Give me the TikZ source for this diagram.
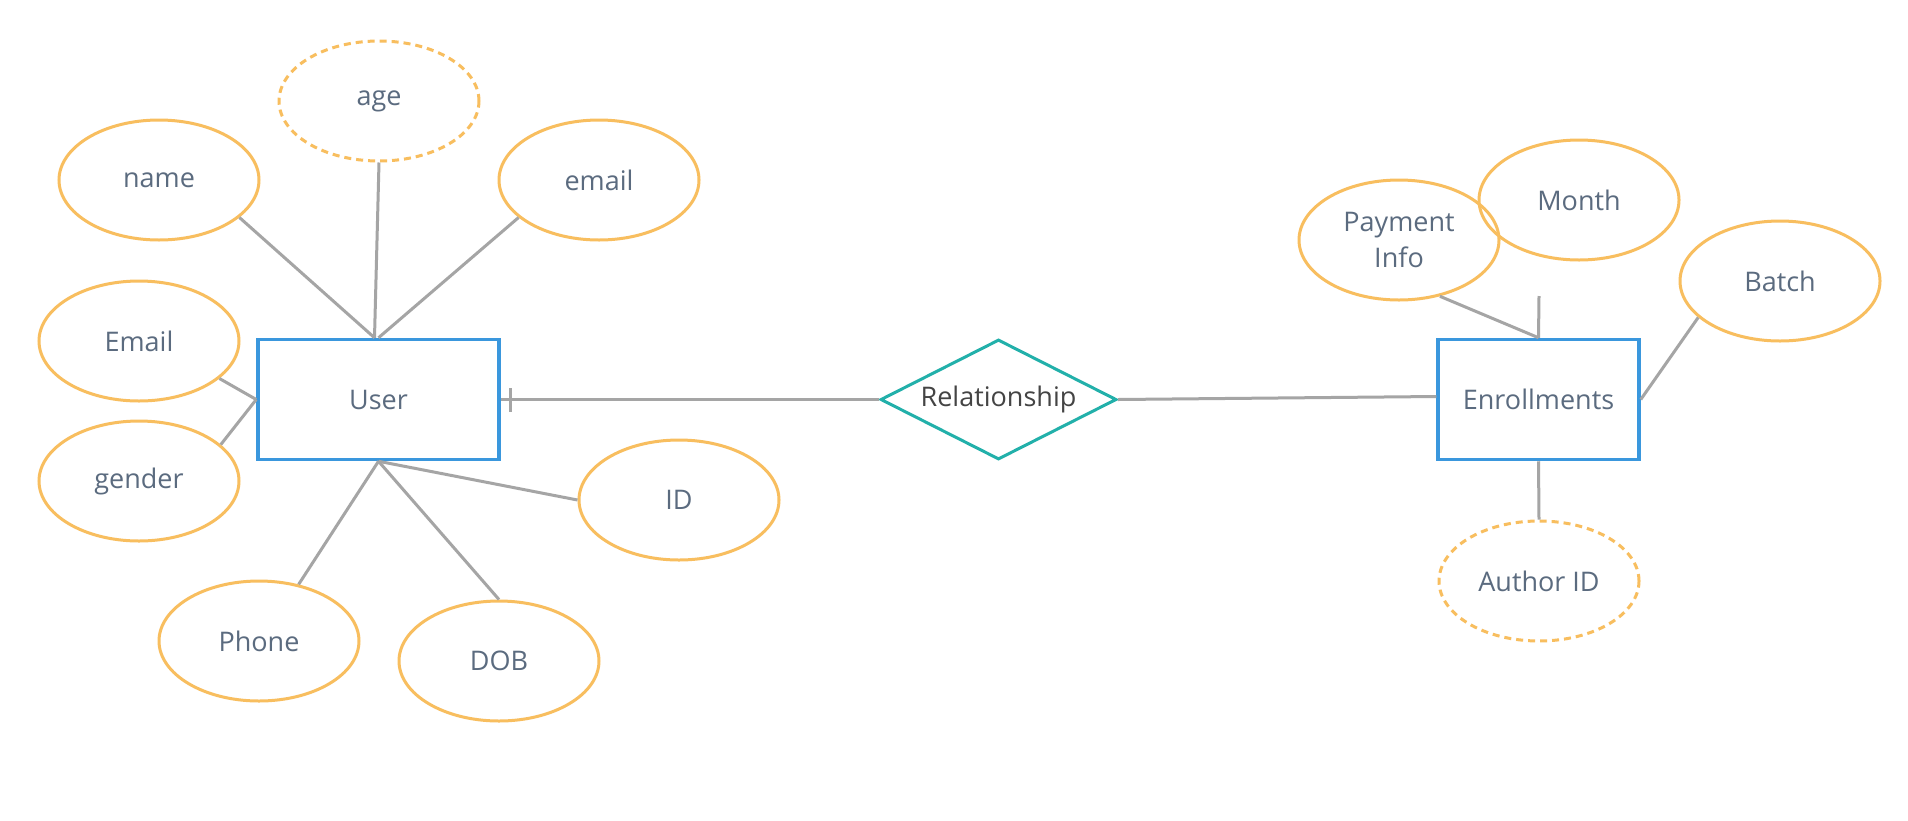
\documentclass[tikz,border=0pt]{standalone}
\usepackage{fontspec}
\setmainfont{Open Sans}
\usetikzlibrary{shapes.geometric}
\definecolor{attrc}{HTML}{F8BE5F}
\definecolor{entc}{HTML}{3A97DD}
\definecolor{relc}{HTML}{22B0AA}
\definecolor{linec}{HTML}{A5A5A5}
\definecolor{txtc}{HTML}{5B6B7F}
\definecolor{reltxt}{HTML}{444444}
\tikzset{
  attr/.style={ellipse, draw=attrc, line width=3pt, minimum width=200pt, minimum height=120pt, inner sep=0pt, text=txtc, align=center, font=\fontsize{27}{36}\selectfont},
  dattr/.style={attr, dash pattern=on 7pt off 5pt},
  entity/.style={rectangle, draw=entc, line width=3.5pt, minimum height=120pt, inner sep=0pt, text=txtc, font=\fontsize{27}{36}\selectfont},
  relbox/.style={diamond, aspect=1.97, draw=relc, line width=3pt, minimum width=236pt, minimum height=120pt, inner sep=0pt, text=reltxt, font=\fontsize{27}{36}\selectfont},
  conn/.style={draw=linec, line width=3pt}
}
\begin{document}
\begin{tikzpicture}[x=1pt,y=-1pt]
\useasboundingbox[fill=white] (0,0) rectangle (1908,820);
% entities
\node[entity, minimum width=241pt] (user) at (378.5,399.5) {User};
\node[entity, minimum width=201pt] (enr) at (1538.5,399.5) {Enrollments};
\node[relbox] (rel) at (998.5,399.5) {Relationship};
% user attributes
\node[dattr] (age) at (379,101) {age};
\node[attr] (name) at (159,180) {name};
\node[attr] (email) at (599,180) {email};
\node[attr] (Email) at (139,341) {Email};
\node[attr] (gender) at (139,481) {gender};
\node[attr] (id) at (679,500) {ID};
\node[attr] (phone) at (259,641) {Phone};
\node[attr] (dob) at (499,661) {DOB};
% enrollment attributes
\node[attr] (pay) at (1399,240) {Payment\\Info};
\node[attr] (month) at (1579,200) {Month};
\node[attr] (batch) at (1780,281) {Batch};
\node[dattr] (author) at (1539,581) {Author ID};
\coordinate (stub) at (1539,296);
% connectors
\draw[conn] (name.-25) -- ([xshift=-4pt]user.north);
\draw[conn] (age.south) -- ([xshift=-4pt]user.north);
\draw[conn] (email.205) -- (user.north);
\draw[conn] (Email.-25) -- (user.west);
\draw[conn] (gender.24) -- (user.west);
\draw[conn] (id.west) -- (user.south);
\draw[conn] (phone.55) -- (user.south);
\draw[conn] (dob.north) -- (user.south);
\draw[conn] (user.east) -- (rel.west);
\draw[conn] ([xshift=10pt,yshift=-12pt]user.east) -- ([xshift=10pt,yshift=12pt]user.east);
\draw[conn] (rel.east) -- ([yshift=3pt]enr.west);
\draw[conn] (pay.-54) -- (enr.north);
\draw[conn] (stub) -- (enr.north);
\draw[conn] (batch.204) -- (enr.east);
\draw[conn] (enr.south) -- (author.north);
\end{tikzpicture}
\end{document}
